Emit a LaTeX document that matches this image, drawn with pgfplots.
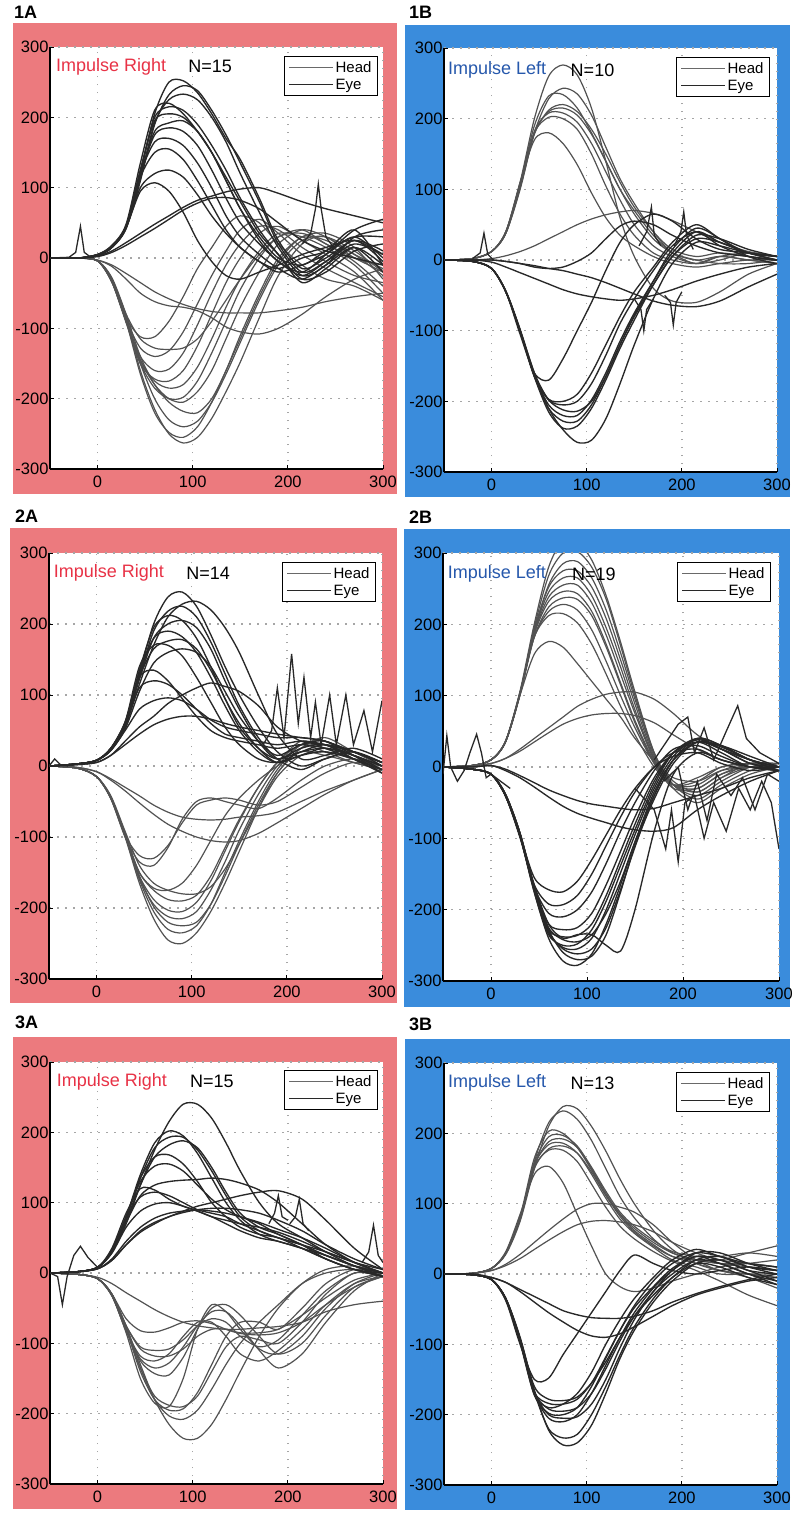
\documentclass[border=0pt]{standalone}
\usepackage{fontspec}
\setmainfont{Liberation Sans}
\usepackage{pgfplots}
\usepackage{pgfplotstable}
\pgfplotsset{compat=1.18}
\definecolor{pinkbg}{RGB}{236,122,126}
\definecolor{bluebg}{RGB}{58,140,220}
\definecolor{redtxt}{RGB}{232,50,70}
\definecolor{bluetxt}{RGB}{38,88,172}
\definecolor{darkc}{RGB}{40,40,40}
\definecolor{grayc}{RGB}{82,82,82}
\definecolor{legh}{RGB}{105,105,105}

\tikzset{ttl/.style={anchor=west, font=\fontsize{18}{18}\selectfont}}
\pgfplotsset{
  panel/.style={
    scale only axis, width=333pt,
    xmin=-50, xmax=300, ymin=-300, ymax=300,
    xtick={0,100,200,300}, xticklabels={0,100,200,300},
    ytick={-300,-200,-100,0,100,200,300},
    yticklabels={-300,-200,-100,0,100,200,300},
    axis x line*=bottom, axis y line*=left,
    axis line style={black, line width=1.2pt, -},
    tick align=inside, major tick length=4pt, tick style={black, line width=0.8pt},
    grid=major, grid style={color=gray!70, line width=1.5pt, dash pattern=on 1.5pt off 6.5pt},
    axis background/.style={fill=white},
    tick label style={font=\fontsize{16.5}{16.5}\selectfont},
    xticklabel style={yshift=-3pt},
    yticklabel style={xshift=2pt},
    legend style={anchor=north east, draw=black, line width=1pt, fill=white,
      font=\fontsize{15}{18}\selectfont, inner xsep=4pt, inner ysep=3pt, row sep=1pt},
    legend image code/.code={\draw[#1] (0pt,0pt) -- (44pt,0pt);},
    legend cell align=left,
  },
  dk/.style={darkc, line width=1.35pt, smooth, forget plot},
  gr/.style={grayc, line width=1.2pt, smooth, forget plot},
  dks/.style={darkc, line width=1.3pt, forget plot},
}

% ---------- Panel 1A ----------
\pgfplotstableread[header=false]{
-50 -20 0 15 30 45 60 75 90 105 120 135 150 170 190 215 240 270 300
0 0 4 16 45 120 205 250 252 235 205 170 140 85 25 -15 0 25 10
0 0 4 15 42 110 190 232 245 238 210 175 135 80 20 -20 -5 20 5
0 0 4 15 42 112 192 225 233 225 200 165 120 65 15 -25 -10 30 40
0 0 5 18 48 135 210 220 205 180 150 115 80 35 5 -30 -20 10 20
0 0 4 16 46 125 200 215 210 190 160 125 85 40 5 -35 -15 15 -10
0 0 4 16 45 125 195 205 200 180 150 110 70 25 -5 -20 5 40 55
0 0 4 15 44 118 180 192 195 180 150 110 70 30 0 -10 10 30 30
0 0 4 15 44 118 175 185 180 160 125 85 50 20 -5 -25 -5 25 -5
0 0 4 15 45 120 165 170 160 135 100 60 30 5 -15 -30 -10 15 -20
0 0 5 16 45 115 150 155 140 110 75 40 15 -5 -20 -10 5 30 0
0 0 5 16 44 100 120 125 115 90 60 35 15 -5 -15 0 10 40 -10
0 0 5 16 44 95 107 95 65 25 -5 -25 -30 -20 -10 5 15 25 5
0 0 3 10 22 35 48 60 72 82 88 94 98 100 92 80 70 60 50
0 0 2 8 18 30 42 55 68 78 85 86 82 70 50 25 10 0 -10
0 0 -4 -30 -85 -160 -215 -250 -263 -255 -228 -190 -148 -85 -25 20 30 0 -10
0 0 -4 -32 -90 -165 -220 -248 -255 -240 -205 -160 -115 -55 -5 30 25 5 -15
0 0 -4 -30 -85 -150 -200 -230 -240 -232 -205 -165 -120 -60 -10 25 30 10 -20
0 0 -4 -28 -80 -140 -180 -205 -218 -220 -200 -160 -110 -50 0 30 35 15 -30
0 0 -4 -30 -85 -145 -180 -200 -205 -190 -160 -115 -70 -20 20 40 30 5 -25
0 0 -4 -32 -90 -150 -185 -200 -198 -175 -135 -90 -45 0 30 35 20 -5 -40
0 0 -4 -32 -88 -145 -175 -185 -180 -155 -115 -70 -30 10 35 30 15 -10 -50
0 0 -4 -34 -92 -150 -172 -175 -160 -125 -80 -35 0 35 45 25 5 -20 -60
0 0 -4 -34 -90 -140 -160 -158 -135 -95 -50 -10 20 45 40 15 -5 -25 -35
0 0 -4 -34 -88 -128 -140 -132 -105 -65 -25 10 40 55 35 5 -15 -35 -55
0 0 -4 -34 -85 -112 -112 -90 -55 -15 15 45 60 50 20 -10 -30 -40 -60
0 0 -3 -10 -22 -35 -48 -58 -66 -72 -76 -78 -78 -78 -75 -70 -62 -55 -50
0 0 -3 -12 -30 -50 -62 -68 -70 -75 -85 -98 -105 -108 -100 -80 -55 -30 -15
0 0 -4 -30 -80 -115 -128 -130 -128 -115 -90 -60 -30 5 30 40 20 0 -20
}\rAa
\pgfplotstabletranspose{\tAa}{\rAa}

% ---------- Panel 1B ----------
\pgfplotstableread[header=false]{
-50 -20 0 15 30 45 60 75 90 105 120 135 150 170 190 215 240 270 300
0 2 12 40 110 200 260 276 262 215 140 60 5 -40 -58 -60 -45 -20 -5
0 2 12 38 100 180 228 243 235 205 160 115 80 40 10 -5 5 10 5
0 2 12 40 108 190 232 234 215 180 140 100 70 35 10 0 5 0 -5
0 2 12 38 102 178 212 220 210 185 150 110 75 40 15 5 10 5 0
0 2 12 38 104 180 210 215 205 178 140 100 65 30 10 0 -5 -5 0
0 2 12 38 105 182 208 208 195 165 125 85 50 20 5 -5 0 10 5
0 2 12 40 108 180 202 200 185 150 105 65 35 10 0 -5 5 0 -5
0 2 12 40 110 170 180 165 135 95 60 35 20 5 -5 -10 -5 0 0
0 0 2 6 12 20 30 40 50 58 64 68 70 66 56 40 25 12 5
0 -2 -12 -45 -100 -160 -210 -240 -258 -255 -225 -175 -120 -55 -5 25 20 10 5
0 -2 -12 -45 -100 -165 -215 -238 -235 -210 -170 -125 -85 -35 5 30 25 10 0
0 -2 -12 -45 -100 -165 -210 -228 -228 -205 -165 -120 -80 -35 5 35 30 15 5
0 -2 -12 -44 -100 -163 -205 -220 -220 -198 -160 -115 -75 -30 10 40 25 10 0
0 -2 -12 -44 -98 -160 -198 -212 -214 -200 -165 -120 -78 -30 15 45 30 5 -5
0 -2 -12 -45 -100 -163 -198 -205 -200 -175 -135 -90 -55 -15 20 40 20 5 0
0 -2 -12 -45 -102 -165 -197 -200 -190 -160 -120 -80 -45 -10 25 50 30 10 5
0 -2 -12 -45 -105 -160 -170 -140 -100 -60 -15 25 50 65 55 30 15 10 5
0 0 -3 -10 -18 -26 -34 -42 -48 -52 -55 -57 -55 -50 -42 -30 -20 -10 -5
0 0 0 -2 -5 -8 -12 -15 -20 -25 -32 -40 -48 -58 -64 -66 -58 -38 -20
0 0 0 -2 -5 -10 -12 -10 -2 10 30 48 55 50 35 20 10 5 0
}\rAb
\pgfplotstabletranspose{\tAb}{\rAb}

% ---------- Panel 2A ----------
\pgfplotstableread[header=false]{
-50 -20 0 15 30 45 60 75 90 105 120 135 150 170 190 215 240 270 300
0 3 8 25 60 130 200 238 245 225 185 140 100 55 20 0 10 20 5
0 3 8 22 55 115 170 210 228 232 220 195 160 100 45 10 15 25 10
0 3 8 24 58 125 190 218 225 210 175 130 85 40 10 -5 10 20 0
0 3 8 24 60 135 195 212 205 180 140 95 60 25 5 15 25 15 -5
0 3 8 24 58 122 180 200 205 195 165 120 80 35 10 25 30 10 -10
0 3 8 24 60 130 180 190 182 160 125 85 50 20 5 20 30 20 5
0 3 8 24 58 125 165 176 178 165 135 95 55 25 10 20 25 15 0
0 3 8 25 62 140 170 170 155 125 90 55 30 10 5 15 20 10 -5
0 3 8 22 52 105 145 160 165 160 140 105 70 35 15 30 35 15 -10
0 3 8 25 62 125 135 120 95 70 50 40 35 30 25 30 25 10 -5
0 3 8 25 60 110 120 115 100 80 60 45 40 35 30 35 30 15 0
0 3 8 22 50 80 92 96 92 80 65 55 50 45 40 40 35 20 5
0 2 5 15 35 55 70 88 100 110 117 112 105 85 55 35 30 20 5
0 2 5 15 30 45 58 66 70 70 66 60 55 50 45 40 35 20 5
0 -3 -15 -45 -100 -165 -215 -245 -250 -235 -205 -165 -120 -60 -10 25 40 20 0
0 -3 -15 -44 -98 -160 -205 -230 -235 -225 -195 -150 -105 -50 -5 30 35 10 -5
0 -3 -15 -44 -95 -155 -198 -220 -225 -220 -195 -155 -110 -55 -10 25 30 15 0
0 -3 -15 -45 -98 -158 -195 -212 -215 -205 -175 -135 -90 -40 0 30 30 10 -5
0 -3 -15 -45 -98 -155 -188 -203 -205 -192 -162 -120 -78 -30 5 35 25 10 0
0 -3 -15 -44 -96 -150 -175 -188 -190 -182 -155 -115 -75 -30 5 30 20 5 -5
0 -3 -15 -42 -92 -140 -165 -175 -180 -180 -170 -145 -110 -60 -15 15 20 10 0
0 -3 -15 -45 -98 -150 -172 -175 -165 -140 -105 -70 -45 -20 0 20 15 5 -5
0 -3 -15 -46 -100 -135 -140 -115 -75 -50 -45 -50 -55 -60 -45 -20 0 10 0
0 -3 -15 -46 -98 -126 -130 -112 -80 -55 -48 -45 -48 -55 -50 -30 -10 5 0
0 -2 -8 -20 -35 -52 -68 -82 -92 -100 -105 -107 -105 -95 -80 -60 -40 -20 -5
0 -2 -8 -18 -30 -42 -55 -65 -72 -75 -76 -75 -72 -70 -65 -50 -35 -20 -5
}\rBa
\pgfplotstabletranspose{\tBa}{\rBa}

% ---------- Panel 2B ----------
\pgfplotstableread[header=false]{
-50 -20 0 15 30 45 60 75 90 105 120 135 150 170 190 215 240 270 300
0 2 10 35 105 200 280 318 315 290 240 175 105 20 -30 -50 -30 -10 0
0 2 10 35 102 195 268 300 302 280 235 170 100 20 -25 -45 -25 -5 5
0 2 10 35 100 190 255 285 288 265 220 160 95 18 -25 -40 -20 0 5
0 2 10 35 102 192 252 275 275 252 208 150 88 15 -20 -35 -15 0 0
0 2 10 35 102 190 245 265 265 240 195 140 80 12 -25 -35 -15 5 0
0 2 10 35 102 188 238 255 255 230 185 130 75 10 -25 -30 -10 0 -5
0 2 10 35 102 186 232 246 243 218 172 118 65 8 -25 -25 -5 5 0
0 2 10 35 100 182 224 237 235 212 168 115 62 5 -30 -30 -10 5 5
0 2 10 35 102 182 218 228 220 192 148 100 55 5 -25 -20 0 5 0
0 2 10 36 104 182 212 215 202 172 130 85 45 0 -25 -15 0 5 0
0 2 10 36 100 158 176 168 145 120 95 70 40 8 -15 -20 -5 0 0
0 2 5 12 25 40 55 70 85 95 102 105 105 95 75 45 25 10 0
0 2 5 12 22 35 48 60 68 73 75 75 72 62 45 25 10 0 -5
0 -3 -10 -40 -95 -175 -240 -272 -278 -262 -220 -165 -105 -35 10 35 30 15 0
0 -3 -10 -38 -92 -168 -228 -260 -270 -265 -235 -175 -110 -45 5 35 25 10 0
0 -3 -10 -38 -92 -168 -230 -255 -262 -255 -225 -172 -112 -40 10 40 30 10 -5
0 -3 -10 -40 -95 -172 -232 -253 -255 -240 -200 -148 -95 -30 15 40 30 10 0
0 -3 -10 -40 -96 -175 -235 -250 -248 -228 -188 -138 -88 -25 20 40 25 5 0
0 -3 -10 -38 -92 -168 -225 -242 -245 -235 -205 -160 -105 -40 10 35 25 5 -5
0 -3 -10 -40 -95 -170 -228 -238 -236 -220 -180 -130 -80 -20 20 38 28 10 0
0 -3 -10 -40 -95 -170 -220 -228 -225 -205 -165 -118 -70 -15 20 35 20 0 0
0 -3 -10 -40 -96 -168 -205 -210 -200 -175 -135 -90 -50 -5 25 30 15 0 -5
0 -3 -10 -40 -98 -165 -192 -193 -180 -150 -110 -70 -35 0 20 25 10 0 -5
0 -3 -10 -40 -96 -155 -172 -175 -160 -130 -95 -60 -30 0 15 20 5 -5 0
0 -3 -10 -38 -92 -165 -220 -240 -235 -235 -250 -258 -200 -90 -10 20 10 0 0
0 0 2 -5 -15 -28 -42 -55 -65 -72 -78 -84 -88 -90 -85 -60 -40 -20 -5
0 0 2 -3 -12 -22 -32 -40 -47 -52 -55 -58 -60 -58 -50 -40 -30 -15 -5
}\rBb
\pgfplotstabletranspose{\tBb}{\rBb}

% ---------- Panel 3A ----------
\pgfplotstableread[header=false]{
-50 -20 0 15 30 45 60 75 90 105 120 135 150 170 190 215 240 270 300
0 2 8 30 70 125 175 215 240 240 220 185 145 100 70 50 30 10 0
0 2 8 32 80 140 185 202 195 170 135 100 75 55 45 35 20 5 -5
0 2 8 30 78 135 178 193 193 175 145 110 80 60 50 40 25 10 0
0 2 8 30 75 125 165 182 188 178 150 115 85 65 55 40 20 5 -5
0 2 8 32 80 135 165 168 155 130 100 80 65 55 50 35 20 5 0
0 2 8 32 80 130 152 155 145 125 105 90 80 70 55 40 25 10 -5
0 2 8 30 72 110 125 130 132 133 135 133 128 118 100 70 40 15 0
0 2 8 35 85 120 118 105 95 88 80 75 70 65 58 45 30 15 5
0 2 8 32 78 108 115 110 100 90 85 80 70 60 50 40 30 15 0
0 2 8 28 65 88 98 100 95 88 80 70 60 50 45 35 25 10 -5
0 2 6 18 40 60 72 80 88 95 100 105 110 115 117 105 75 35 5
0 2 6 18 40 58 70 80 86 90 92 92 90 85 75 60 40 20 5
0 2 6 20 45 65 78 85 88 90 88 85 80 72 62 50 35 15 0
0 -2 -8 -30 -75 -130 -180 -215 -235 -235 -215 -180 -140 -90 -50 -15 5 10 0
0 -2 -8 -30 -78 -135 -180 -203 -208 -195 -165 -130 -100 -70 -45 -15 0 5 -5
0 -2 -8 -32 -80 -140 -180 -195 -193 -170 -130 -90 -70 -70 -80 -50 -15 5 0
0 -2 -8 -30 -78 -135 -175 -188 -190 -175 -140 -105 -90 -95 -100 -70 -30 0 -5
0 -2 -8 -32 -80 -125 -143 -145 -120 -80 -50 -45 -60 -90 -115 -100 -60 -20 -5
0 -2 -8 -32 -82 -122 -135 -128 -105 -75 -55 -55 -75 -110 -135 -115 -70 -25 0
0 -2 -8 -32 -82 -118 -125 -115 -90 -70 -70 -90 -115 -125 -110 -80 -45 -15 -5
0 -2 -8 -30 -75 -108 -118 -118 -108 -90 -80 -80 -85 -85 -80 -60 -35 -10 0
0 -2 -8 -30 -65 -82 -84 -78 -70 -68 -72 -80 -86 -88 -85 -70 -45 -20 -5
0 -2 -6 -15 -28 -40 -52 -62 -70 -75 -78 -80 -80 -78 -76 -70 -55 -45 -40
0 -2 -8 -32 -85 -150 -185 -190 -150 -80 -45 -55 -80 -108 -115 -90 -50 -15 0
0 -2 -8 -30 -75 -105 -110 -108 -95 -75 -65 -70 -90 -105 -95 -60 -25 0 0
}\rCa
\pgfplotstabletranspose{\tCa}{\rCa}

% ---------- Panel 3B ----------
\pgfplotstableread[header=false]{
-50 -20 0 15 30 45 60 75 90 105 120 135 150 170 190 215 240 270 300
0 1 8 28 75 150 210 238 235 210 175 135 100 62 35 15 5 0 -5
0 1 8 30 80 160 215 232 220 190 150 110 80 50 30 20 15 10 5
0 1 8 30 82 165 203 200 180 148 112 85 65 45 30 20 15 15 10
0 1 8 30 80 158 195 197 182 152 118 88 68 48 32 25 25 30 25
0 1 8 30 80 155 188 192 180 150 115 85 62 42 25 15 5 -5 -20
0 1 8 30 80 155 184 186 172 142 108 78 58 38 20 10 0 0 0
0 1 8 30 78 150 178 182 172 145 112 82 60 40 25 20 20 30 40
0 1 8 30 80 152 176 176 160 128 95 68 50 32 18 5 -10 -30 -45
0 1 8 32 85 142 153 130 85 40 0 -18 -25 -20 -10 0 10 15 20
0 1 5 14 28 45 62 78 92 100 100 95 88 70 45 20 5 0 -5
0 1 5 12 22 35 48 60 70 75 76 74 70 60 45 30 20 15 10
0 -1 -8 -35 -90 -165 -222 -243 -240 -215 -170 -120 -80 -40 -10 15 20 5 0
0 -1 -8 -35 -92 -168 -220 -233 -228 -200 -160 -115 -75 -35 -5 20 25 10 0
0 -1 -8 -36 -95 -170 -205 -210 -200 -170 -130 -90 -55 -20 5 25 20 5 -10
0 -1 -8 -35 -94 -168 -200 -205 -203 -185 -150 -105 -65 -25 0 20 15 0 -15
0 -1 -8 -36 -96 -172 -198 -200 -190 -160 -120 -80 -45 -10 15 30 25 10 5
0 -1 -8 -36 -95 -168 -192 -195 -190 -170 -135 -95 -60 -25 5 30 30 15 5
0 -1 -8 -37 -98 -172 -190 -185 -170 -140 -100 -65 -35 -5 20 35 25 15 10
0 -1 -8 -36 -96 -168 -184 -185 -178 -155 -118 -80 -48 -18 8 25 15 0 -10
0 -1 -8 -35 -92 -160 -178 -180 -175 -155 -125 -90 -60 -30 -5 15 10 -5 -15
0 -1 -8 -38 -100 -150 -148 -115 -85 -55 -25 5 27 15 5 0 5 10 5
0 0 -5 -12 -22 -32 -42 -52 -58 -62 -63 -63 -60 -52 -40 -28 -18 -8 0
0 0 -5 -12 -25 -40 -55 -68 -80 -88 -90 -85 -75 -60 -45 -30 -20 -10 -5
}\rCb
\pgfplotstabletranspose{\tCb}{\rCb}

\begin{document}
\begin{tikzpicture}[x=1pt,y=1pt]
\useasboundingbox (0,0) rectangle (797,-1516);
% backgrounds
\fill[pinkbg] (13,-23) rectangle (397,-494);
\fill[bluebg] (405,-25) rectangle (790,-497);
\fill[pinkbg] (10,-528) rectangle (397,-1003);
\fill[bluebg] (404,-529) rectangle (790,-1007);
\fill[pinkbg] (13,-1037) rectangle (397,-1509);
\fill[bluebg] (405,-1039) rectangle (790,-1510);
% panel labels
\begin{scope}[every node/.style={anchor=base west, font=\bfseries\fontsize{18}{18}\selectfont, inner sep=0pt}]
\node at (14,-18) {1A};
\node at (409,-18) {1B};
\node at (15,-522) {2A};
\node at (409,-523) {2B};
\node at (15,-1028) {3A};
\node at (409,-1030) {3B};
\end{scope}

% ===== 1A =====
\begin{axis}[panel, at={(50pt,-469pt)}, anchor=south west, height=422pt,
  legend style={at={(rel axis cs:0.985,0.979)}}]
\pgfplotsinvokeforeach{16,...,29}{\addplot[gr] table[x index=1,y index=#1]{\tAa};}
\pgfplotsinvokeforeach{2,...,15}{\addplot[dk] table[x index=1,y index=#1]{\tAa};}
\addplot[dks] coordinates {(-50,0)(-30,1)(-23,8)(-18,45)(-14,8)(-8,2)(0,3)};
\addplot[dks] coordinates {(215,20)(224,35)(229,70)(232,105)(235,70)(240,30)(248,15)};
\addlegendimage{legh, line width=1.1pt}\addlegendentry{Head}
\addlegendimage{darkc, line width=1.1pt}\addlegendentry{Eye}
\node[ttl, text=redtxt] at (rel axis cs:0.008,0.953) {Impulse Right};
\node[ttl] at (rel axis cs:0.405,0.953) {N=15};
\end{axis}

% ===== 1B =====
\begin{axis}[panel, at={(444pt,-472pt)}, anchor=south west, height=424pt,
  legend style={at={(rel axis cs:0.979,0.979)}}]
\pgfplotsinvokeforeach{2,...,10}{\addplot[gr] table[x index=1,y index=#1]{\tAb};}
\pgfplotsinvokeforeach{11,...,21}{\addplot[dk] table[x index=1,y index=#1]{\tAb};}
\addplot[dks] coordinates {(-20,2)(-12,10)(-8,38)(-4,8)(2,0)};
\addplot[dks] coordinates {(155,20)(163,40)(168,75)(171,35)(178,20)};
\addplot[dks] coordinates {(192,20)(199,40)(202,68)(205,35)(212,15)};
\addplot[dks] coordinates {(150,-55)(157,-70)(160,-100)(163,-70)(170,-55)};
\addplot[dks] coordinates {(182,-50)(188,-60)(191,-92)(194,-60)(200,-45)};
\addlegendimage{legh, line width=1.1pt}\addlegendentry{Head}
\addlegendimage{darkc, line width=1.1pt}\addlegendentry{Eye}
\node[ttl, text=bluetxt] at (rel axis cs:0.002,0.948) {Impulse Left};
\node[ttl] at (rel axis cs:0.37,0.948) {N=10};
\end{axis}

% ===== 2A =====
\begin{axis}[panel, at={(49pt,-979pt)}, anchor=south west, height=426pt,
  legend style={at={(rel axis cs:0.982,0.979)}}]
\pgfplotsinvokeforeach{16,...,27}{\addplot[gr] table[x index=1,y index=#1]{\tBa};}
\pgfplotsinvokeforeach{2,...,15}{\addplot[dk] table[x index=1,y index=#1]{\tBa};}
\addplot[dks] coordinates {(175,30)(184,50)(190,110)(197,40)(205,158)(212,60)(218,125)(225,40)(230,90)(236,30)(245,100)(252,30)(262,100)(270,30)(281,78)(290,20)(300,92)};
\addplot[dks] coordinates {(-50,0)(-44,10)(-38,2)(-30,0)};
\addlegendimage{legh, line width=1.1pt}\addlegendentry{Head}
\addlegendimage{darkc, line width=1.1pt}\addlegendentry{Eye}
\node[ttl, text=redtxt] at (rel axis cs:0.004,0.953) {Impulse Right};
\node[ttl] at (rel axis cs:0.402,0.953) {N=14};
\end{axis}

% ===== 2B =====
\begin{axis}[panel, at={(443pt,-981pt)}, anchor=south west, height=428pt, width=336pt,
  legend style={at={(rel axis cs:0.976,0.979)}}]
\pgfplotsinvokeforeach{2,...,14}{\addplot[gr] table[x index=1,y index=#1]{\tBb};}
\pgfplotsinvokeforeach{15,...,28}{\addplot[dk] table[x index=1,y index=#1]{\tBb};}
\addplot[dks] coordinates {(150,-30)(170,-60)(182,-115)(188,-60)(195,-133)(202,-50)(212,-40)(222,-100)(232,-50)(245,-90)(258,-30)(270,-60)(282,-20)(292,-50)(300,-115)};
\addplot[dks] coordinates {(170,10)(185,40)(195,60)(205,70)(212,20)(222,55)(232,10)(245,50)(257,86)(266,40)(280,20)(300,5)};
\addplot[dks] coordinates {(180,-20)(195,0)(205,-60)(215,-20)(225,-75)(235,-10)(250,-40)(262,-15)(275,-60)(288,-10)(300,-20)};
\addplot[dks] coordinates {(-50,-10)(-46,44)(-42,0)(-35,-20)(-28,-5)(-22,20)(-15,46)(-10,20)(-5,-15)(0,-10)(10,-20)(20,-30)};
\addlegendimage{legh, line width=1.1pt}\addlegendentry{Head}
\addlegendimage{darkc, line width=1.1pt}\addlegendentry{Eye}
\node[ttl, text=bluetxt] at (rel axis cs:0.004,0.951) {Impulse Left};
\node[ttl] at (rel axis cs:0.374,0.951) {N=19};
\end{axis}

% ===== 3A =====
\begin{axis}[panel, at={(50pt,-1484pt)}, anchor=south west, height=422pt,
  legend style={at={(rel axis cs:0.985,0.981)}}]
\pgfplotsinvokeforeach{15,...,26}{\addplot[gr] table[x index=1,y index=#1]{\tCa};}
\pgfplotsinvokeforeach{2,...,14}{\addplot[dk] table[x index=1,y index=#1]{\tCa};}
\addplot[dks] coordinates {(180,70)(186,85)(190,110)(194,80)(200,75)};
\addplot[dks] coordinates {(202,70)(208,80)(212,105)(216,70)(222,60)};
\addplot[dks] coordinates {(278,15)(285,30)(290,68)(295,25)(300,15)};
\addplot[dks] coordinates {(-50,0)(-42,-5)(-37,-45)(-32,-5)(-25,25)(-18,38)(-10,22)(0,8)};
\addlegendimage{legh, line width=1.1pt}\addlegendentry{Head}
\addlegendimage{darkc, line width=1.1pt}\addlegendentry{Eye}
\node[ttl, text=redtxt] at (rel axis cs:0.01,0.953) {Impulse Right};
\node[ttl] at (rel axis cs:0.41,0.953) {N=15};
\end{axis}

% ===== 3B =====
\begin{axis}[panel, at={(444pt,-1485pt)}, anchor=south west, height=422pt,
  legend style={at={(rel axis cs:0.979,0.979)}}]
\pgfplotsinvokeforeach{2,...,12}{\addplot[gr] table[x index=1,y index=#1]{\tCb};}
\pgfplotsinvokeforeach{13,...,24}{\addplot[dk] table[x index=1,y index=#1]{\tCb};}
\addlegendimage{legh, line width=1.1pt}\addlegendentry{Head}
\addlegendimage{darkc, line width=1.1pt}\addlegendentry{Eye}
\node[ttl, text=bluetxt] at (rel axis cs:0.002,0.953) {Impulse Left};
\node[ttl] at (rel axis cs:0.37,0.953) {N=13};
\end{axis}
\end{tikzpicture}
\end{document}
